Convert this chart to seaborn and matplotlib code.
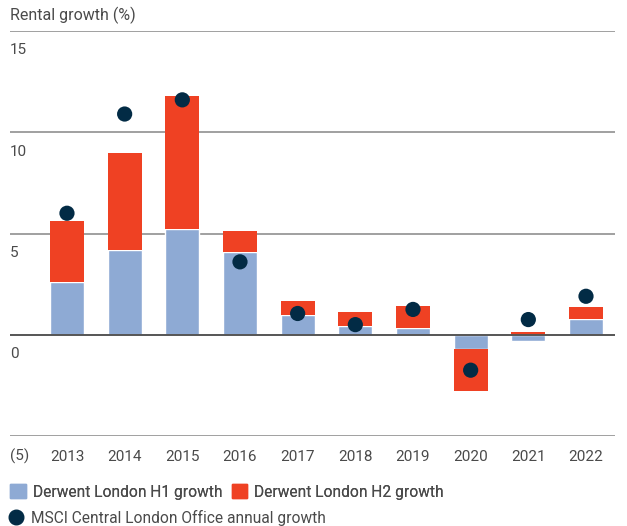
import matplotlib
matplotlib.use("Agg")
import matplotlib.pyplot as plt
import matplotlib.transforms as mtransforms
from matplotlib.patches import Patch
from matplotlib.lines import Line2D
import seaborn as sns
import pandas as pd
import numpy as np

# Rental growth data (%)
years = ["2013", "2014", "2015", "2016", "2017", "2018", "2019", "2020", "2021", "2022"]
h1_growth = [2.6, 4.2, 5.2, 4.1, 1.0, 0.45, 0.35, -0.7, -0.3, 0.8]
h2_growth = [3.0, 4.8, 6.6, 1.0, 0.65, 0.65, 1.05, -2.1, 0.15, 0.55]
msci_growth = [6.0, 10.9, 11.6, 3.6, 1.05, 0.5, 1.25, -1.75, 0.75, 1.9]
y_ticks = [15, 10, 5, 0, -5]
y_tick_labels = ["15", "10", "5", "0", "(5)"]

C_H1 = "#8eaad4"
C_H2 = "#ef4123"
C_MSCI = "#022b45"
C_TEXT = "#4a4a4a"
C_GRID = "#a0a0a0"

sns.set_theme(style="white")
plt.rcParams["font.family"] = ["Roboto", "DejaVu Sans"]

df = pd.DataFrame({"year": years, "h1": h1_growth, "h2": h2_growth, "msci": msci_growth})
# H2 stacks on H1 when both share a sign, otherwise it starts from zero
df["h2_bottom"] = np.where(np.sign(df["h1"]) == np.sign(df["h2"]), df["h1"], 0.0)

fig = plt.figure(figsize=(6.27, 5.26), dpi=100)
W, H = 627, 526
ax = fig.add_axes([10 / W, 1 - 436 / H, 605 / W, 405 / H])

bar_w = 0.59
sns.barplot(data=df, x="year", y="h1", color=C_H1, width=bar_w, saturation=1,
            ax=ax, zorder=3)
xpos = np.arange(len(years))
ax.bar(xpos, df["h2"], bottom=df["h2_bottom"], width=bar_w, color=C_H2,
       linewidth=0, zorder=3)
sns.scatterplot(x=xpos, y=df["msci"], color=C_MSCI, s=120, edgecolor="none",
                ax=ax, zorder=6, legend=False)

ax.set_xlim(-0.988, 9.503)
ax.set_ylim(-5, 15)

# Horizontal reference lines
for v in y_ticks:
    ax.axhline(v, color="#555555" if v == 0 else C_GRID,
               lw=1.4, zorder=2 if v else 5)

for s in ax.spines.values():
    s.set_visible(False)
ax.set_yticks([])
ax.set_xlabel("")
ax.set_ylabel("")
ax.set_xticks(xpos)
ax.set_xticklabels(years, color=C_TEXT, fontsize=11)
ax.tick_params(axis="x", length=0, pad=10)

# Value labels sit just under each reference line
offset = mtransforms.ScaledTranslation(0, -9 / 72, fig.dpi_scale_trans)
trans = mtransforms.blended_transform_factory(ax.transAxes, ax.transData) + offset
for v, lab in zip(y_ticks, y_tick_labels):
    ax.text(0, v, lab, transform=trans, ha="left", va="top",
            fontsize=11, color=C_TEXT)

fig.text(10 / W, 1 - 15 / H, "Rental growth (%)", ha="left", va="center",
         fontsize=11.5, color=C_TEXT)

leg_kw = dict(frameon=False, fontsize=11.2, labelcolor=C_TEXT,
              handlelength=1.0, handleheight=1.0, handletextpad=0.47,
              borderaxespad=0, borderpad=0)
leg1 = fig.legend(
    handles=[Patch(color=C_H1, label="Derwent London H1 growth"),
             Patch(color=C_H2, label="Derwent London H2 growth")],
    loc="center left", bbox_to_anchor=(10 / W, 1 - 492 / H), ncol=2,
    columnspacing=0.6, **leg_kw)
fig.legend(
    handles=[Line2D([], [], marker="o", linestyle="none", markersize=10.5,
                    color=C_MSCI, label="MSCI Central London Office annual growth")],
    loc="center left", bbox_to_anchor=(8 / W, 1 - 518 / H), **leg_kw)
fig.add_artist(leg1)

fig.savefig("out.png", dpi=100, facecolor="white")
